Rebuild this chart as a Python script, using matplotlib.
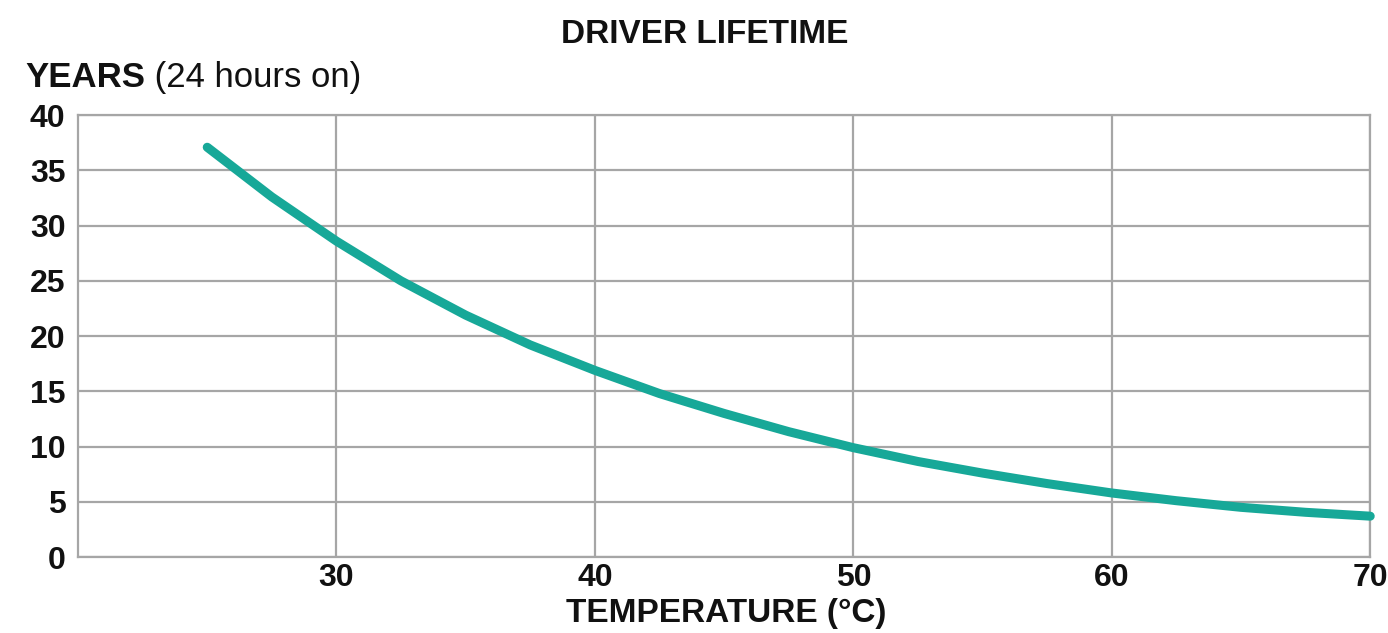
import matplotlib
matplotlib.use("Agg")
import matplotlib.pyplot as plt

# values
temperature = [25, 27.5, 30, 32.5, 35, 37.5, 40, 42.5, 45, 47.5, 50,
               52.5, 55, 57.5, 60, 62.5, 65, 67.5, 70]
years = [37.1, 32.6, 28.6, 25.0, 21.9, 19.2, 16.9, 14.8, 13.0, 11.35, 9.9,
         8.65, 7.6, 6.65, 5.8, 5.1, 4.5, 4.05, 3.7]

x_ticks = [30, 40, 50, 60, 70]
y_ticks = [0, 5, 10, 15, 20, 25, 30, 35, 40]

plt.rcParams["font.family"] = ["Liberation Sans", "DejaVu Sans"]

fig = plt.figure(figsize=(13.88, 6.33), dpi=100)
ax = fig.add_axes([0.0562, 0.120, 0.931, 0.698])

grid_col = "#a6a6a6"
txt_col = "#111111"
ax.plot(temperature, years, color="#17a898", lw=6.5, solid_capstyle="round",
        solid_joinstyle="round", clip_on=False, zorder=3)

ax.set_xlim(20, 70)
ax.set_ylim(0, 40)
ax.set_xticks(x_ticks)
ax.set_yticks(y_ticks)
ax.grid(True, color=grid_col, lw=1.6)
ax.set_axisbelow(True)
for s in ax.spines.values():
    s.set_color(grid_col)
    s.set_linewidth(1.6)
ax.tick_params(length=0, labelsize=23, colors=txt_col)
ax.tick_params(axis="x", pad=4)
ax.tick_params(axis="y", pad=9)
for lab in ax.get_xticklabels() + ax.get_yticklabels():
    lab.set_fontweight("bold")

fig.text(705 / 1388, 0.932, "DRIVER LIFETIME", ha="center", va="baseline",
         fontsize=24, fontweight="bold", color=txt_col)
t1 = fig.text(25 / 1388, 0.8626, "YEARS", ha="left", va="baseline",
              fontsize=25, fontweight="bold", color=txt_col)
ax.annotate(" (24 hours on)", xy=(1, 0), xycoords=t1, va="bottom", ha="left",
            fontsize=25, color=txt_col, annotation_clip=False)

fig.text(726 / 1388, 0.0174, "TEMPERATURE (°C)", ha="center", va="baseline",
         fontsize=24, fontweight="bold", color=txt_col)

fig.savefig("out.png", dpi=100)
